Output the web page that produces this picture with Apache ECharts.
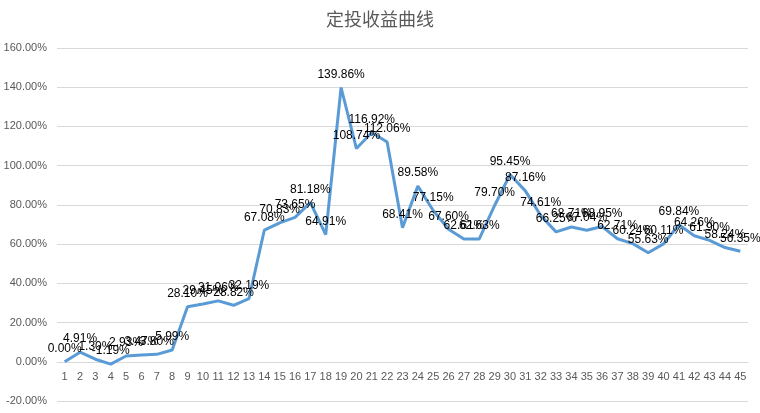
<!DOCTYPE html>
<html><head><meta charset="utf-8">
<script src="https://cdn.jsdelivr.net/npm/echarts@6/dist/echarts.min.js"></script>
<style>html,body{margin:0;padding:0;background:#fff}#c{width:760px;height:413px}</style>
</head><body><div id="c"></div>
<script>
const titleText = '定投收益曲线';
const categories = ['1','2','3','4','5','6','7','8','9','10','11','12','13','14','15','16','17','18','19','20','21','22','23','24','25','26','27','28','29','30','31','32','33','34','35','36','37','38','39','40','41','42','43','44','45'];
const returns = [0.00,4.91,1.30,-1.19,2.93,3.47,3.80,5.99,28.10,29.45,31.06,28.82,32.19,67.08,70.83,73.65,81.18,64.91,139.86,108.74,116.92,112.06,68.41,89.58,77.15,67.60,62.61,62.63,79.70,95.45,87.16,74.61,66.25,68.71,67.04,68.95,62.71,60.24,55.63,60.11,69.84,64.26,61.90,58.24,56.35];
const yMin = -20, yMax = 160, yStep = 20;

const gridTop = 48, gridBottom = 12, chartH = 413;
const plotH = chartH - gridTop - gridBottom;
const zeroShift = plotH * (0 - yMin) / (yMax - yMin);

const chart = echarts.init(document.getElementById('c'));
chart.setOption({
  animation: false,
  title: {text: titleText, left: 'center', top: 5,
    textStyle: {fontFamily: 'Noto Sans CJK SC', fontSize: 18, fontWeight: 'normal', color: '#595959'}},
  grid: {left: 57, right: 12, top: gridTop, bottom: gridBottom, containLabel: false, outerBoundsMode: 'none'},
  xAxis: {type: 'category', data: categories, boundaryGap: true, offset: -zeroShift,
    axisLine: {onZero: false, lineStyle: {color: '#d9d9d9'}},
    axisTick: {show: false},
    axisLabel: {color: '#595959', fontSize: 11, fontFamily: 'Liberation Sans', interval: 0, margin: 10}},
  yAxis: {type: 'value', min: yMin, max: yMax, interval: yStep,
    axisLine: {show: false}, axisTick: {show: false},
    splitLine: {lineStyle: {color: '#d9d9d9'}},
    axisLabel: {color: '#595959', fontSize: 11, fontFamily: 'Liberation Sans', margin: 10,
      formatter: v => v.toFixed(2) + '%'}},
  series: [{type: 'line', data: returns, symbol: 'circle', symbolSize: 0, showSymbol: true,
    lineStyle: {color: '#5b9bd5', width: 3}, itemStyle: {color: '#5b9bd5'},
    labelLayout: {hideOverlap: false},
    label: {show: true, position: 'top', distance: 7, color: '#000', fontSize: 12, fontFamily: 'Liberation Sans',
      formatter: p => p.value.toFixed(2) + '%'}}]
});
</script></body></html>
